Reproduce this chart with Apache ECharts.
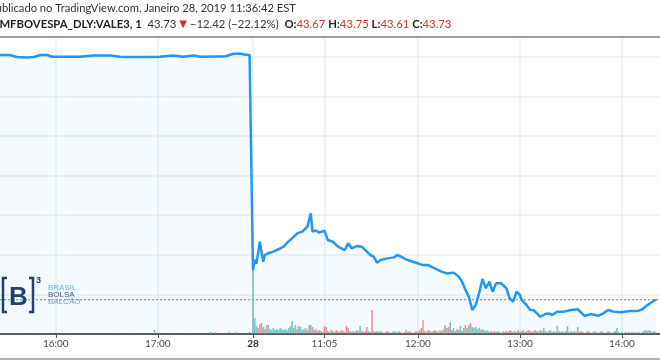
<!DOCTYPE html>
<html><head><meta charset="utf-8">
<script src="https://cdn.jsdelivr.net/npm/echarts@6/dist/echarts.min.js"></script>
<style>html,body{margin:0;padding:0;background:#fff}#c{width:660px;height:360px}</style>
</head><body><div id="c"></div>
<script>
// ---- data (BMFBOVESPA:VALE3, 1-minute bars) ----
const day25Times  = ['15:26','15:27','15:33','15:37','15:43','15:47','15:51','15:55','15:58','16:14','16:22','16:32','16:38','16:40','16:55','17:01','17:09','17:15','17:21','17:25','17:40','17:44','17:48','17:51','17:54','17:55'];
const day25Prices = [56.09,56.09,56.09,55.99,55.96,55.99,56.09,56.09,56.00,56.00,56.07,56.07,56.00,55.99,55.99,56.00,56.07,56.00,56.07,56.00,56.03,56.14,56.17,56.12,56.09,56.15];

const day28Times  = ['10:23','10:24','10:25','10:26','10:27','10:29','10:30','10:32','10:35','10:38','10:41','10:43','10:46','10:49','10:52','10:55','10:57','10:58','11:00','11:02','11:05','11:07','11:10','11:13','11:17','11:19','11:21','11:24','11:27','11:30','11:32','11:34','11:36','11:38','11:42','11:46','11:48','11:50','11:53','11:57','12:00','12:03','12:06','12:10','12:14','12:17','12:21','12:24','12:26','12:28','12:30','12:32','12:34','12:36','12:38','12:40','12:42','12:44','12:46','12:49','12:52','12:54','12:56','12:58','13:00','13:01','13:04','13:06','13:08','13:10','13:12','13:15','13:17','13:19','13:22','13:26','13:30','13:34','13:38','13:42','13:46','13:49','13:52','13:55','13:59','14:05','14:10','14:12','14:15','14:18','14:20'];
const day28Prices = [45.23,45.75,45.55,46.10,46.66,45.65,45.99,46.08,46.16,46.28,46.41,46.61,46.83,47.08,47.17,47.42,48.09,47.17,47.22,47.12,47.22,46.75,46.66,46.41,46.24,46.58,46.33,46.44,46.41,46.16,45.99,45.91,45.60,45.74,45.82,45.87,45.99,45.91,45.77,45.65,45.57,45.48,45.48,45.31,45.15,45.06,45.10,44.90,44.64,44.22,43.88,43.21,43.46,44.06,44.78,44.31,44.64,44.14,44.56,44.56,44.31,43.80,43.63,44.14,43.97,43.72,43.46,43.21,43.21,43.04,42.87,43.01,43.04,42.96,43.13,43.13,43.21,43.25,42.91,43.01,42.92,43.04,43.21,43.13,43.10,43.16,43.18,43.25,43.46,43.63,43.73];

const lastPrice = 43.73;
const quote = {last:'43.73', change:'−12.42', changePct:'−22.12%', open:'43.67', high:'43.75', low:'43.61', close:'43.73'};

// signed volume: positive = up bar, negative = down bar (arbitrary units)
const vol25Times = ['15:30','15:35','15:40','15:48','15:55','16:05','16:20','16:35','16:45','16:58','17:10','17:20','17:31','17:34','17:38','17:42','17:46','17:50','17:54'];
const vol25      = [1,-1,1,-1,1,1,-1,1,1,4,1,-1,2,2,-1,2,2,-1,2];
const vol28Open  = '10:23';   // one value per minute from the open
const vol28 = [
64,16,8,-6,-10,-11,7,5,-9,9,
5,4,6,4,5,4,6,5,4,5,
4,6,8,13,6,-9,-5,8,7,4,
5,-6,4,9,-9,7,-4,-5,3,-4,
3,-2,-8,-7,3,-2,-4,3,-2,-4,
3,-2,-4,3,-2,-8,-6,3,-2,3,
-2,4,-3,8,3,-2,-3,-7,3,-2,
-24,-3,2,3,-2,3,2,-1,-2,3,
-2,1,-2,3,2,-2,3,-2,1,-2,
-4,2,-3,2,-1,-2,3,-2,-4,-6,
-14,-3,2,-4,3,-2,-3,4,-3,2,
-4,3,-5,-9,6,-7,12,4,-6,3,
5,-4,8,3,-6,-9,6,9,-11,7,
6,7,5,6,-4,5,4,3,4,-2,
3,-2,-3,2,-3,2,-1,-3,2,-3,
-2,-4,-3,2,-3,2,-4,2,-3,-4,
2,-3,-4,3,-2,-3,-4,3,-2,4,
-3,6,3,-2,3,4,-2,3,2,8,
3,-2,3,2,-3,8,2,-3,2,3,
-2,7,-2,3,-2,-1,-2,-3,2,-1,
-2,3,-2,1,-2,3,-2,-1,2,3,
-2,1,-2,3,6,2,-1,2,-1,2,
1,-2,1,2,-1,2,1,-2,1,2,
3,4,3,4,3,2,3,2];

const tickLabels = ['16:00','17:00','28','11:05','12:00','13:00','14:00'];
const tickDays   = [25,25,28,28,28,28,28];
const tickTimes  = ['16:00','17:00','10:23','11:05','12:00','13:00','14:00'];

// ---- time -> gapless bar index ----
const mins = t => { const [h,m] = t.split(':').map(Number); return h*60+m; };
const REF25 = mins('15:00');
const OPEN28_INDEX = 176;
const idx = (day, t) => day === 25 ? mins(t) - REF25 : OPEN28_INDEX + mins(t) - mins(vol28Open);

const priceData = day25Times.map((t,i)=>[idx(25,t), day25Prices[i]])
  .concat(day28Times.map((t,i)=>[idx(28,t), day28Prices[i]]));

const UP = 'rgba(38,166,154,0.6)', DOWN = 'rgba(239,83,80,0.6)';
const volData = vol25Times.map((t,i)=>({value:[idx(25,t), Math.abs(vol25[i])], itemStyle:{color: vol25[i]>=0?UP:DOWN}}))
  .concat(vol28.map((v,k)=>({value:[OPEN28_INDEX+k, Math.abs(v)], itemStyle:{color: v>=0?UP:DOWN}})));

const tickValues = tickTimes.map((t,i)=>idx(tickDays[i], t));
const labelMap = {}; tickValues.forEach((v,i)=>labelMap[v]=tickLabels[i]);

const PX_PER_BAR = 1.7, W = 660;
const xMin = OPEN28_INDEX - 253/PX_PER_BAR, xMax = xMin + W/PX_PER_BAR;

const chart = echarts.init(document.getElementById('c'), null, {renderer:'canvas'});
const gridColor = '#e9eff6';
const font = 'Lato';
const BLUE = '#2196f3';

chart.setOption({
  animation:false,
  grid:[
    {left:0,right:0,top:37,bottom:26},
    {left:0,right:0,bottom:26,height:70}
  ],
  xAxis:[
    {type:'value', gridIndex:0, min:xMin, max:xMax,
     axisLine:{show:true, lineStyle:{color:'#5a5a5a', width:2}},
     axisTick:{show:true, length:4, customValues:tickValues, lineStyle:{color:'#5a5a5a'}},
     axisLabel:{show:true, customValues:tickValues, color:'#4a4a4a', fontFamily:font, fontSize:10, margin:5,
       formatter:v=> labelMap[v]==='28' ? '{d|28}' : (labelMap[v]||''),
       rich:{d:{fontWeight:'bold', color:'#333', fontFamily:font, fontSize:10}}},
     splitLine:{show:true, lineStyle:{color:gridColor, width:1.5}}},
    {type:'value', gridIndex:1, min:xMin, max:xMax, show:false}
  ],
  yAxis:[
    {type:'value', gridIndex:0, min:42, max:57, interval:2,
     axisLine:{show:false}, axisTick:{show:false}, axisLabel:{show:false},
     splitLine:{show:true, lineStyle:{color:gridColor, width:1.5}}},
    {type:'value', gridIndex:1, min:0, max:70, show:false, splitLine:{show:false}}
  ],
  series:[
    {type:'bar', xAxisIndex:1, yAxisIndex:1, data:volData, barWidth:1.6, z:2},
    {type:'line', xAxisIndex:0, yAxisIndex:0, data:priceData, showSymbol:false, symbol:'none',
     itemStyle:{color:BLUE},
     lineStyle:{color:BLUE, width:2.5}, areaStyle:{color:'rgba(33,150,243,0.07)'}, z:3},
    {type:'line', name:'last', xAxisIndex:0, yAxisIndex:0, data:[[xMin,lastPrice],[xMax,lastPrice]],
     showSymbol:false, symbol:'none', silent:true, itemStyle:{color:BLUE},
     lineStyle:{color:BLUE, type:[2,2], width:1}, z:4}
  ],
  graphic:[
    {type:'line', shape:{x1:0,y1:37,x2:660,y2:37}, style:{stroke:'#9e9e9e', lineWidth:2}, z:10},
    {type:'line', shape:{x1:0,y1:359,x2:660,y2:359}, style:{stroke:'#b0b0b0', lineWidth:2}, z:10},
    {type:'text', left:-11, top:3, style:{text:'Publicado no TradingView.com, Janeiro 28, 2019 11:36:42 EST', fill:'#333', font:'11.2px Lato'}},
    {type:'text', left:-8, top:19, style:{
      text:'{s|BMFBOVESPA_DLY:VALE3, 1}  {n|'+quote.last+'} {r|▼} {n|'+quote.change+' ('+quote.changePct+')}  {s|O:}{v|'+quote.open+'} {s|H:}{v|'+quote.high+'} {s|L:}{v|'+quote.low+'} {s|C:}{v|'+quote.close+'}',
      rich:{
        s:{fill:'#222', font:'bold 11.3px Lato'},
        n:{fill:'#333', font:'11.3px Lato'},
        r:{fill:'#d32f2f', font:'10px "DejaVu Sans"'},
        v:{fill:'#d32f2f', font:'11.3px Lato'}
      }, font:'11.3px Lato'}},
    // B3 watermark
    {type:'polyline', shape:{points:[[7,278],[3,278],[3,312],[7,312]]}, style:{stroke:'#26406e', lineWidth:2.5, fill:null}, z:5},
    {type:'polyline', shape:{points:[[29,278],[33,278],[33,312],[29,312]]}, style:{stroke:'#26406e', lineWidth:2.5, fill:null}, z:5},
    {type:'text', left:9, top:285, style:{text:'B', fill:'#26406e', font:'bold 26px "Liberation Sans"'}, z:5},
    {type:'text', left:36, top:276, style:{text:'3', fill:'#26406e', font:'bold 9px "Liberation Sans"'}, z:5},
    {type:'text', left:48, top:284, style:{text:'BRASIL', fill:'#5bb6ea', font:'8px "Liberation Sans"'}, z:5},
    {type:'text', left:48, top:291, style:{text:'BOLSA', fill:'#4e5d73', font:'8px "Liberation Sans"'}, z:5},
    {type:'text', left:48, top:298, style:{text:'BALCÃO', fill:'#8d9cb2', font:'8px "Liberation Sans"'}, z:5}
  ]
});
</script></body></html>
